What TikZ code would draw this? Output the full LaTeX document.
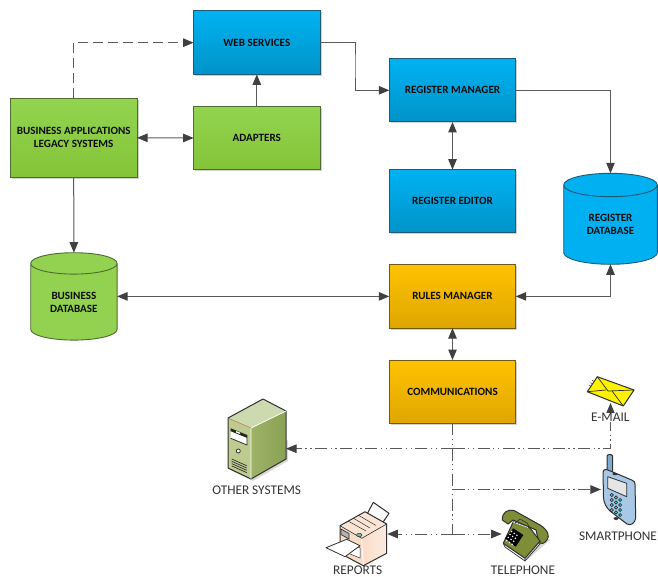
\documentclass[tikz,border=0pt]{standalone}
\usepackage{fontspec}
\setmainfont{Carlito}
\usetikzlibrary{arrows.meta,shadows,calc}
\definecolor{lineg}{HTML}{5A5A5A}
\definecolor{tipg}{HTML}{404040}
\definecolor{icon}{HTML}{303030}
\definecolor{blueT}{HTML}{00B2F2}
\definecolor{blueB}{HTML}{0093C8}
\definecolor{blueD}{HTML}{1E5A76}
\definecolor{greenT}{HTML}{93D450}
\definecolor{greenB}{HTML}{84C438}
\definecolor{greenD}{HTML}{4F6B32}
\definecolor{orangeT}{HTML}{FFC200}
\definecolor{orangeB}{HTML}{DFA600}
\definecolor{orangeD}{HTML}{6F5A14}
\definecolor{dbgreen}{HTML}{92D250}
\definecolor{dbblue}{HTML}{00B0F0}
\tikzset{
  boxbase/.style={rectangle,line width=1pt,outer sep=0pt,inner sep=0pt,align=center,
    font=\fontsize{11.1}{13}\selectfont\bfseries,text=black!95,
    minimum width=126.4pt,minimum height=63.4pt,shading angle=0,
    drop shadow={shadow xshift=1.5pt,shadow yshift=-1.5pt,opacity=.18,fill=black}},
  bluebox/.style={boxbase,draw=blueD,top color=blueT,bottom color=blueB},
  greenbox/.style={boxbase,draw=greenD,top color=greenT,bottom color=greenB},
  orangebox/.style={boxbase,draw=orangeD,top color=orangeT,bottom color=orangeB},
  anchorbox/.style={rectangle,inner sep=0pt,outer sep=0pt},
  dbtext/.style={align=center,inner sep=0pt,font=\fontsize{11.1}{13}\selectfont\bfseries,text=black!95},
  captext/.style={inner sep=1pt,font=\fontsize{13.3}{15}\selectfont,text=black!80},
  conn/.style={line width=1pt,draw=lineg,>={Triangle[length=10.5pt,width=8.5pt,color=tipg]}},
  dashline/.style={conn,line width=1.1pt,dash pattern=on 10pt off 5pt},
  ddline/.style={conn,line width=.9pt,dash pattern=on 12pt off 3.5pt on 1.3pt off 3.5pt on 1.3pt off 3.5pt},
  iconline/.style={draw=icon,line width=1pt,line join=round},
  thinline/.style={draw=icon,line width=.5pt},
}
\begin{document}
\begin{tikzpicture}[x=1pt,y=-1pt]
\useasboundingbox (0,0) rectangle (658,577);
% boxes
\node[bluebox] (web) at (256.8,42.7) {WEB SERVICES};
\node[greenbox] (adapters) at (256.8,138) {ADAPTERS};
\node[greenbox,minimum width=126.7pt,minimum height=79pt] (business) at (73.7,137.8) {BUSINESS APPLICATIONS\\LEGACY SYSTEMS};
\node[bluebox] (rm) at (452.5,90.3) {REGISTER MANAGER};
\node[bluebox] (re) at (452.5,201.3) {REGISTER EDITOR};
\node[orangebox] (rules) at (452.5,296.4) {RULES MANAGER};
\node[orangebox] (comm) at (452.5,391.7) {COMMUNICATIONS};
% databases
\node[anchorbox,minimum width=86.4pt,minimum height=87.4pt] (busdb) at (73.9,296.4) {};
\node[anchorbox,minimum width=93.6pt,minimum height=91pt] (regdb) at (610.5,218.8) {};
\draw[draw=greenD,line width=.9pt,fill=dbgreen] (busdb.north west) ++(0,10.7) -- ($(busdb.south west)+(0,-10.7)$) arc[start angle=180,delta angle=180,x radius=43.2pt,y radius=10.7pt] -- ($(busdb.north east)+(0,10.7)$) arc[start angle=0,delta angle=360,x radius=43.2pt,y radius=10.7pt];
\draw[draw=blueD,line width=.9pt,fill=dbblue] (regdb.north west) ++(0,11.7) -- ($(regdb.south west)+(0,-11.7)$) arc[start angle=180,delta angle=180,x radius=46.8pt,y radius=11.7pt] -- ($(regdb.north east)+(0,11.7)$) arc[start angle=0,delta angle=360,x radius=46.8pt,y radius=11.7pt];
\node[dbtext] (busdbtext) at (73.9,302) {BUSINESS\\DATABASE};
\node[dbtext] (regdbtext) at (610.5,224.7) {REGISTER\\DATABASE};
% icon anchors
\node[anchorbox,minimum width=58pt,minimum height=80pt] (server) at (257,439) {};
\node[anchorbox,minimum width=61pt,minimum height=64pt] (printer) at (356.8,534) {};
\node[anchorbox,minimum width=46.3pt,minimum height=48pt] (telephone) at (524.8,534) {};
\node[anchorbox,minimum width=34.7pt,minimum height=70pt] (phone) at (618.3,490) {};
\node[anchorbox,minimum width=47pt,minimum height=26pt] (email) at (610.5,390) {};
% server
\fill[black,opacity=.15] (230,470) -- (253,481) -- (288,461) -- (288,440) -- cycle;
\fill[fill={rgb,255:red,205;green,217;blue,175}] (228,418) -- (263,399) -- (286,411) -- (251,428) -- cycle;
\fill[fill={rgb,255:red,190;green,203;blue,143}] (228,418) -- (251,428) -- (251,479) -- (228,468) -- cycle;
\shade[left color={rgb,255:red,158;green,178;blue,104},right color={rgb,255:red,138;green,162;blue,83}] (251,428) -- (286,411) -- (286,459) -- (251,479) -- cycle;
\draw[iconline] (228,418) -- (263,399) -- (286,411) -- (286,459) -- (251,479) -- (228,468) -- cycle;
\draw[white,line width=.8pt] (251,428) -- (286,411) (251,428) -- (251,479);
\draw[draw={rgb,255:red,190;green,130;blue,90},line width=.6pt] (229,418.5) -- (251,428);
\fill[black!85] (230.7,428.3) -- (247.3,435) -- (247.3,438) -- (230.7,431.3) -- cycle;
\fill[white] (230.7,431.5) -- (247,438.2) -- (247,445) -- (230.7,438.3) -- cycle;
\draw[thinline,line width=.8pt] (247,438.2) -- (247,445) -- (230.7,438.3);
\fill[white] (236,431) -- (240,432.6) -- (240,434) -- (236,432.4) -- cycle;
\draw[thinline,line width=.8pt,fill=white] (238.3,451) circle[radius=2pt];
\draw[thinline,line width=.7pt] (231.7,459) -- (246.7,465.7) (231.7,461.3) -- (246.7,468) (231.7,463.6) -- (246.7,470.3) (231.7,465.9) -- (246.7,472.6);
% printer
\filldraw[fill={rgb,255:red,250;green,250;blue,250},draw=icon,line width=1pt,line join=round] (373.3,502.3) -- (389,513.3) -- (380,526.7) -- (365.7,516.7) -- cycle;
\fill[fill={rgb,255:red,250;green,228;blue,214}] (340,525.7) -- (365,511.7) -- (386.7,524) -- (361.7,538.3) -- cycle;
\shade[left color={rgb,255:red,252;green,220;blue,198},right color={rgb,255:red,250;green,236;blue,226}] (361.7,538.3) -- (386.7,524) -- (386.7,553.3) -- (363.3,565.7) -- cycle;
\fill[fill={rgb,255:red,247;green,220;blue,200}] (340,525.7) -- (361.7,538.3) -- (363.3,565.7) -- (340,553.3) -- cycle;
\draw[iconline] (340,525.7) -- (365,511.7) -- (386.7,524) -- (386.7,553.3) -- (363.3,565.7) -- (340,553.3) -- cycle;
\draw[iconline,line width=.6pt] (340,525.7) -- (361.7,538.3) -- (386.7,524);
\draw[white,line width=.8pt] (361.7,539) -- (363.3,565);
\draw[thinline] (353,518) -- (370,528) (358,515) -- (376,525.5) (348,521) -- (366,531);
\draw[thinline,line width=.7pt,fill=black!30] (341,529) -- (349,533.5) -- (349,539) -- (341,534.5) -- cycle;
\draw[thinline,fill=white] (345,540) -- (360,548) -- (360,558) -- (345,552) -- cycle;
\draw[iconline,fill=white,line width=.8pt] (326,547.7) -- (346.7,539.3) -- (360,545.7) -- (345,556.7) -- cycle;
\draw[thinline,fill={rgb,255:red,120;green,190;blue,160}] (359.3,535) ellipse[x radius=2.7pt,y radius=1.7pt];
% telephone
\fill[black,opacity=.15] (505,546) -- (527,560) -- (550,540) -- (540,535) -- cycle;
\draw[iconline,fill={rgb,255:red,125;green,141;blue,56}] (502.3,520) .. controls (502,512) and (508,509) .. (514,510.5) -- (540,525) .. controls (548,530) and (550,536) .. (547,540) .. controls (544,544) and (541,544) .. (539,543) -- (536,530) -- (513,520) -- (508,524) -- cycle;
\draw[iconline,fill={rgb,255:red,125;green,141;blue,56}] (503.3,543.3) -- (513.3,521.7) -- (530,528) -- (540,541) -- (525,558.3) -- cycle;
\draw[thinline,line width=.7pt] (503.3,543.5) -- (505,547) -- (525,561) -- (525,558.3) (525,561) -- (540,544) -- (540,541);
\fill[black] (513.3,528.3) -- (523.3,535) -- (515.7,546.7) -- (505,538.3) -- cycle;
\foreach \a in {0,1,2,3}{\foreach \b in {0,1,2}{
  \fill[white] ($(511.5,531.5)+\a*(-1.6,3)+\b*(2.7,1.9)$) circle[radius=.85pt];}}
\draw[white,line width=.6pt] (513,522) -- (528,527.5);
\draw[thinline,line width=.6pt] (515,523) -- (520,519) -- (527,523) -- (530,528);
% phone
\draw[iconline,fill={rgb,255:red,130;green,170;blue,205}] (607,470) -- (607,456) .. controls (607,454) and (612.5,454) .. (612.5,456) -- (612.5,473) -- cycle;
\draw[iconline,fill={rgb,255:red,168;green,200;blue,230}] (603,472) .. controls (604,469) and (606,469) .. (608,470) -- (631.7,480) .. controls (634,481) and (635,482) .. (635,484) -- (635.7,518) .. controls (635,523) and (631,526) .. (627,524) -- (610,511) .. controls (606,507) and (604,503) .. (603.5,498) -- cycle;
\draw[iconline,line width=.8pt,fill=white!90!black] (607.7,476.7) -- (626.7,483.3) -- (626.7,496.7) -- (607.7,488.3) -- cycle;
\fill[icon] (615,474) ellipse[x radius=2.5pt,y radius=1.2pt];
\fill[icon] (616,518.5) ellipse[x radius=2.5pt,y radius=1.4pt];
\foreach \a in {0,1,2,3}{\foreach \b in {0,1,2}{
  \draw[thinline,line width=.7pt,fill=white!70!blue!30!cyan] ($(611.7,495)+\a*(0,5)+\b*(4.2,2.5)$) circle[radius=1.6pt];}}
% email
\foreach \k in {0,1,2}{\draw[thinline] (589+\k*1.5,385-\k*2.4) -- (594+\k*1.5,388-\k*2.4);}
\draw[iconline,fill=yellow] (587.3,391.7) -- (597.3,376.7) -- (634,390) -- (623.3,406) -- cycle;
\draw[iconline,line width=.7pt] (597.3,376.7) -- (608,391) -- (634,390);
\draw[iconline,line width=.7pt] (587.3,391.7) -- (606,390) (623.3,406) -- (612,391);
% connectors
\draw[conn,->] (adapters.north) -- (web.south);
\draw[dashline,->] (business.north) |- (web.west);
\draw[conn,<->] (business.east) -- (adapters.west);
\coordinate (jog) at (355,66);
\draw[conn,->] (web.east) -| (jog) |- (rm.west);
\draw[conn,<->] (rm.south) -- (re.north);
\draw[conn,->] (rm.east) -| (regdb.north);
\draw[conn,->] (business.south) -- (busdb.north);
\draw[conn,<->] (busdb.east) -- (rules.west);
\draw[conn,<->] (rules.east) -| (regdb.south);
\draw[conn,<->] (rules.south) -- (comm.north);
\coordinate (j1) at (452.5,448.7);
\coordinate (j2) at (452.5,489.5);
\coordinate (j3) at (452.5,534);
\draw[ddline] (comm.south) -- (j3);
\draw[ddline,->] (j1) -- (j1 -| server.east);
\draw[ddline,->] (j1) -| (email.south);
\draw[ddline,->] (j2) -- (j2 -| phone.west);
\draw[ddline,->] (j3) -- (printer.east);
\draw[ddline,->] (j3) -- (telephone.west);
% captions
\node[captext,fill=white,inner sep=.5pt] (emailcap) at (610.3,417.7) {E-MAIL};
\node[captext] (servercap) at (256.7,490.7) {OTHER SYSTEMS};
\node[captext] (phonecap) at (618,536.7) {SMARTPHONE};
\node[captext] (telcap) at (523,570.7) {TELEPHONE};
\node[captext,anchor=base,inner sep=0pt] (printercap) at (357.7,574.5) {REPORTS};
\end{tikzpicture}
\end{document}
